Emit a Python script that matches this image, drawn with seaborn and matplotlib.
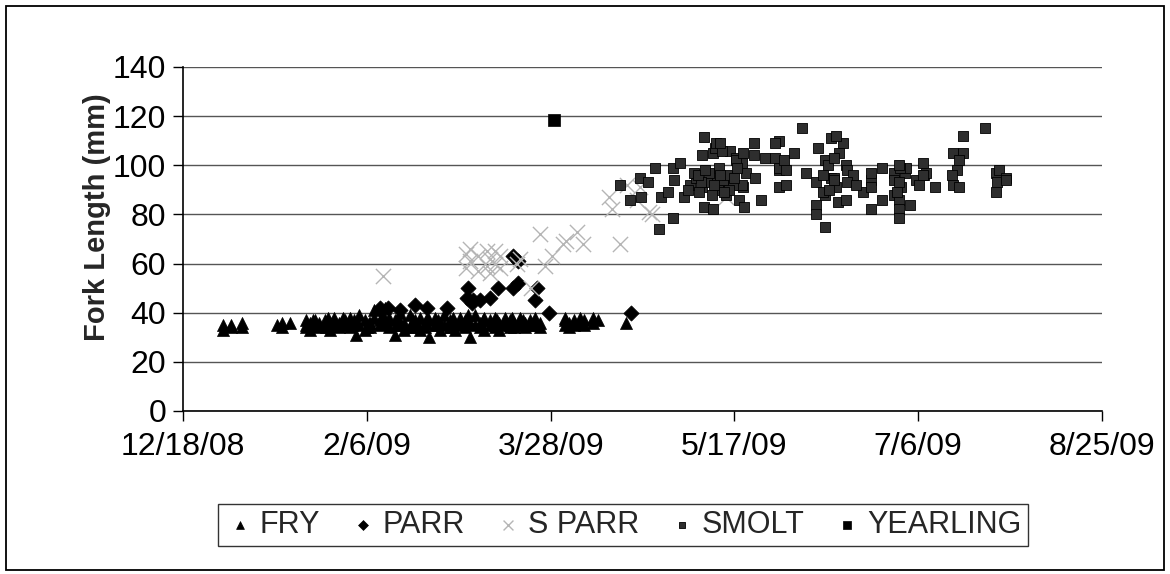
import numpy as np
import pandas as pd
import matplotlib
matplotlib.use("Agg")
import matplotlib.pyplot as plt
import matplotlib.dates as mdates
from matplotlib.patches import Rectangle
import seaborn as sns

# ---------------- data (day offsets from 12/18/08, fork length mm) -------------
fry_day = [11, 11, 13, 13, 16, 16, 25.5, 27, 27, 29,
           33.5, 33.5, 33.5, 34.5, 34.5, 36, 36, 37, 37, 38.5, 38.5, 40, 40, 41, 41,
           42.5, 42.5, 44, 44, 45.5, 45.5, 47, 47, 48, 48, 49.5, 49.5, 51, 51, 52, 52,
           53.5, 53.5, 55, 55, 56, 56, 57.6, 57.6, 59, 59, 60, 60, 61.7, 61.7, 63, 63,
           64.4, 64.4, 65.8, 65.8, 67, 67, 68.5, 68.5, 70, 70, 71, 71, 72.5, 72.5,
           74, 74, 75.3, 75.3, 76.6, 76.6, 78, 78, 79.3, 79.3, 80.7, 80.7, 82, 82,
           83.4, 83.4, 84.8, 84.8, 86, 86, 87.5, 87.5, 88.9, 88.9, 90, 90, 91.6, 91.6,
           93, 93, 94.3, 94.3, 95.7, 95.7, 97, 97,
           103.8, 103.8, 103.8, 105, 105, 106.5, 106.5, 108, 108, 109, 109,
           111.4, 111.4, 112.8, 120.4,
           35, 39, 43, 46, 50, 54, 58, 62, 66, 69, 73, 77, 81, 85, 89, 92, 96,
           35.5, 39.5, 43.5, 46.5, 50.5, 54.5, 58.5, 62.5, 66.5, 69.5, 73.5, 77.5,
           81.5, 85.5, 89.5, 92.5]
fry_len = [33, 35, 35, 34, 36, 34, 35, 36, 34, 36,
           34, 37, 35, 36, 33, 35, 37, 34, 36, 37, 35, 33, 36, 38, 35,
           36, 34, 37, 35, 38, 34, 31, 36, 39, 35, 33, 37, 36, 34, 41, 38,
           35, 37, 42, 36, 38, 34, 31, 37, 40, 35, 36, 33, 39, 34, 37, 35,
           38, 33, 36, 34, 30, 37, 35, 38, 33, 36, 39, 35, 34, 37,
           36, 33, 38, 35, 34, 37, 30, 36, 39, 35, 36, 34, 38, 33,
           35, 37, 34, 38, 36, 33, 38, 35, 35, 37, 34, 36, 38, 35,
           36, 34, 37, 35, 38, 36, 36, 34,
           37, 35, 38, 36, 34, 37, 35, 36, 38, 35, 37,
           36, 38, 37, 36,
           35, 34, 36, 35, 34, 36, 35, 34, 36, 35, 34, 36, 35, 35, 34, 36, 35,
           37, 38, 38, 37, 36, 39, 38, 37, 38, 37, 38, 39, 37, 37, 38, 37]

parr_day = [53.5, 55.7, 59, 63, 66.3, 71.7, 77.2, 77.4, 78.5, 78.8, 80.7, 83.4,
            85.6, 89.7, 89.7, 91, 91, 95.7, 96.2, 99.7, 122]
parr_len = [42, 42, 41, 43, 42, 42, 46, 50, 44, 45, 45, 46,
            50, 50, 63, 61, 52, 45, 50, 40, 40]

sparr_day = [54.3, 76.9, 76.9, 78, 78, 80.2, 80.2, 82.6, 82.6, 83.4, 83.4, 84.8, 84.8,
             86.1, 86.1, 90.8, 91.6, 94.8, 97, 98.4, 100.3, 103.3, 104.3, 107.1, 108.7,
             116, 116.8, 118.8, 120.7, 123.4, 124.2, 126.9, 127.7, 147.8]
sparr_len = [55, 64, 58, 61, 66, 57, 63, 59, 65, 56, 62, 65, 60,
             58, 63, 60, 62, 50, 72, 59, 63, 68, 69, 73, 68,
             87, 82, 68, 92, 86, 91, 81, 80, 87]

smolt_day = [118.8, 121.5, 124.2, 126.4, 124.7, 129.6, 133.3, 128.5, 130, 131.8, 133.4,
             133.5, 135.1, 136.4, 141.6, 143.5, 141.3, 144.3, 141.3, 144.8, 141.8, 144.3,
             148.7, 150.3, 152.2, 148.7, 145.1, 147, 145.9, 149.2, 146.5, 147.8,
             146.2, 150.5, 152.4, 153.2, 152.4, 150.8, 152, 151.3, 152.7, 155.4, 158.2,
             155.4, 155.7, 157.1, 162.2, 162.2, 162.2, 161.1, 161.1, 162, 164.1, 164.1,
             163.6, 168.4, 166.3, 172.8, 172.3, 174.7, 174.7, 172.3, 172.3, 174.7,
             175.5, 176.3, 174.2, 176.3, 179.6, 178.5, 177.2, 177.2, 177.7, 178.3,
             177.7, 180.4, 177.2, 169.6, 174.2, 175.8, 180.4,
             180.7, 182.3, 180.7, 185, 183, 187.2, 187.2, 187.2, 187.2, 190.2, 190.2,
             193.5, 195.4, 193.5, 193.5, 194.8, 197.8, 194.8, 194.8, 199.5,
             194.2, 196.5, 194.8, 196.6, 195.1, 201.7, 201.4, 202, 194.8, 200.1, 201.4,
             209.5, 210.6, 209.2, 209.5, 204.6, 212.1, 212.1, 211, 211, 218.3,
             221.2, 221.4, 221.2, 222.1, 223.9, 223.9,
             138, 139.5, 140.5, 142.5, 143, 145.5, 146.8, 148, 149.5, 139, 141, 143.8,
             146, 148.5, 150, 137.5, 140, 142, 144.5, 147.2]
smolt_len = [92, 86, 95, 93, 87, 74, 78.5, 99, 87, 89, 99,
             94, 101, 87, 111.5, 96, 104, 105, 91, 107, 83, 82,
             106, 103, 101, 95, 109, 91, 99, 93, 106, 88,
             109, 102, 91, 97, 105, 99, 92, 86, 83, 104, 103,
             109, 95, 86, 110, 98, 91, 109, 103, 99, 98, 92,
             102, 115, 105, 107, 93, 102, 88, 84, 80, 75,
             100, 95, 96, 111, 109, 105, 103, 95, 91, 85,
             112, 100, 94, 97, 89, 90, 86,
             98, 96, 93, 89, 92, 82, 94, 97, 91, 99, 86,
             97, 91, 94, 88, 86, 84, 82, 78.5, 94,
             89, 97, 93, 99, 99, 96, 101, 97, 100, 92, 96,
             105, 98, 96, 92, 91, 112, 105, 102, 91, 115,
             97, 93, 89, 98, 95, 94,
             92, 95, 89, 93, 97, 90, 94, 96, 92, 97, 93, 88,
             96, 90, 95, 90, 96, 98, 92, 89]

yearling_day = [101]
yearling_len = [118.5]

# ---------------------------------------------------------------------------
start = pd.Timestamp("2008-12-18")


def to_dates(days):
    return start + pd.to_timedelta(np.array(days, dtype=float), unit="D")


sns.set_theme(style="white")
plt.rcParams['font.family'] = ['Liberation Sans Narrow', 'Liberation Sans', 'DejaVu Sans']

fig = plt.figure(figsize=(11.7, 5.74), dpi=100)
ax = fig.add_axes([0.1564, 0.284, 0.7855, 0.5993])

# frame around the whole chart
fig.patches.append(Rectangle((6 / 1170, 4 / 574), 1158 / 1170, 564 / 574,
                             transform=fig.transFigure, fill=False,
                             edgecolor='black', linewidth=1.3))

series = [
    ("FRY", fry_day, fry_len, dict(marker='^', s=75, color='black', edgecolor='black', linewidth=0.5)),
    ("PARR", parr_day, parr_len, dict(marker='D', s=60, color='black', edgecolor='black', linewidth=0.5)),
    ("S PARR", sparr_day, sparr_len, dict(marker='x', s=120, color='#b5b5b5', linewidth=1.0)),
    ("SMOLT", smolt_day, smolt_len, dict(marker='s', s=45, color='#2e2e2e', edgecolor='black', linewidth=0.6)),
    ("YEARLING", yearling_day, yearling_len, dict(marker='s', s=70, color='black', edgecolor='black', linewidth=0.5)),
]

for name, d, v, kw in series:
    df = pd.DataFrame({"date": to_dates(d), "len": v})
    sns.scatterplot(data=df, x="date", y="len", ax=ax, label=name, zorder=3, **kw)

ax.set_ylim(0, 140)
ax.set_yticks(np.arange(0, 141, 20))
ax.set_xlim(mdates.date2num(start), mdates.date2num(start + pd.Timedelta(days=250)))
xt = [start + pd.Timedelta(days=50 * k) for k in range(6)]
ax.set_xticks([mdates.date2num(t) for t in xt])
ax.set_xticklabels([f"{t.month}/{t.day}/{t:%y}" for t in xt])

ax.grid(axis='y', color='#555555', linewidth=1.0)
ax.grid(axis='x', visible=False)
ax.set_axisbelow(True)
for side in ['top', 'right']:
    ax.spines[side].set_visible(False)
for side in ['left', 'bottom']:
    ax.spines[side].set_color('black')
    ax.spines[side].set_linewidth(1.2)
ax.tick_params(axis='both', direction='out', length=7, width=1.0, color='black',
               labelsize=23, labelcolor='black', bottom=True, left=True)
ax.tick_params(axis='y', pad=5)
ax.tick_params(axis='x', pad=8)
ax.set_xlabel("")
ax.set_ylabel("Fork Length (mm)", fontsize=21, fontweight='bold')
ax.yaxis.set_label_coords(-0.078, 0.565)

h, l = ax.get_legend_handles_labels()
leg = ax.legend(h, l, loc='center', bbox_to_anchor=(623 / 1170, 1 - 525 / 574),
                bbox_transform=fig.transFigure, ncol=5, frameon=True, fancybox=False,
                edgecolor='black', fontsize=22, handletextpad=0.15, columnspacing=0.9,
                borderpad=0.2, handlelength=1.0, markerscale=0.65)
leg.get_frame().set_linewidth(1.0)

fig.savefig("out.png", dpi=100)
